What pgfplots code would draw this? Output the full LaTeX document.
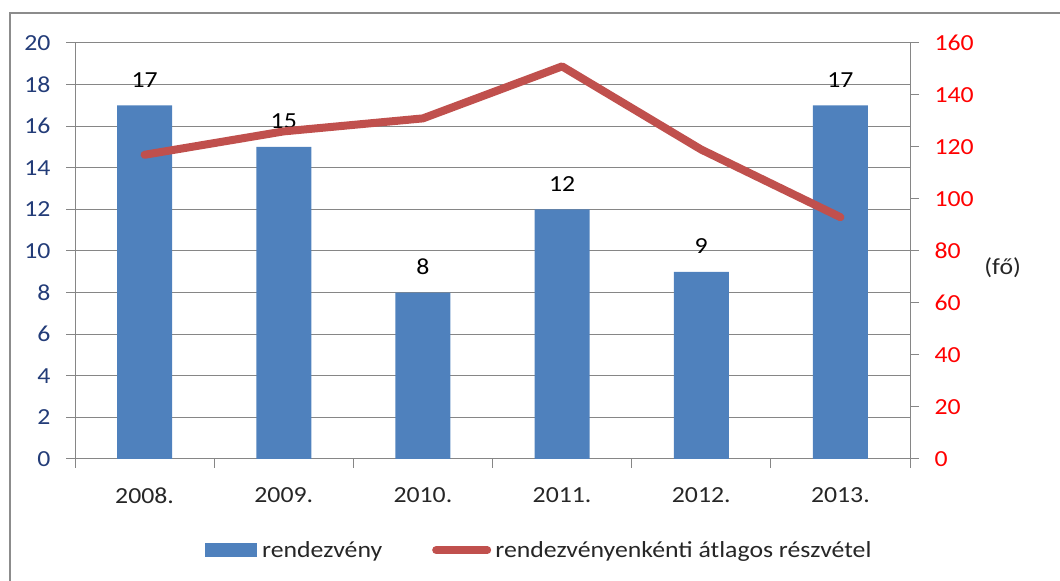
\documentclass[border=0pt]{standalone}
\usepackage{pgfplots}
\pgfplotsset{compat=1.18}
\usepackage{fontspec}
\setmainfont{Carlito}[FakeStretch=1.12]
\definecolor{barblue}{RGB}{79,129,189}
\definecolor{linered}{RGB}{192,80,77}
\definecolor{ticknavy}{RGB}{35,60,120}
\definecolor{gridgray}{RGB}{134,134,134}
\definecolor{framegray}{RGB}{140,140,140}
\begin{document}
\begin{tikzpicture}[x=1bp,y=1bp,font=\fontsize{23bp}{27bp}\selectfont]
\useasboundingbox (0,0) rectangle (1060,581);
\draw[framegray, line width=2.5bp] (10,-20) -- (10,568) -- (1080,568);
\begin{axis}[
  at={(75bp,122bp)}, anchor=south west,
  scale only axis, width=835bp, height=416bp,
  xmin=-0.5, xmax=5.5, ymin=0, ymax=20,
  ytick={0,2,...,20},
  xtick={0,...,5},
  xticklabels={2008.,2009.,2010.,2011.,2012.,2013.},
  minor xtick={-0.5,0.5,1.5,2.5,3.5,4.5,5.5},
  major x tick style={draw=none},
  axis x line*=bottom, axis y line*=left,
  axis line style={gridgray, line width=1bp, -},
  tick style={gridgray, line width=1bp},
  tick align=outside,
  major tick length=9bp, minor tick length=9bp,
  ymajorgrids, major grid style={gridgray, line width=1bp},
  yticklabel style={ticknavy, xshift=-12bp},
  xticklabel style={black!85, yshift=-16bp},
  /pgf/number format/assume math mode=true,
  every tick label/.append style={font=\fontsize{23bp}{27bp}\selectfont},
  legend style={at={(0.1557,-0.219)}, anchor=west, draw=none, fill=none,
    inner sep=0pt, legend columns=2,
    font=\fontsize{23bp}{27bp}\selectfont, text=black!85,
    nodes={inner sep=2bp},
    /tikz/every even column/.append style={column sep=48bp}},
  legend cell align=left,
  clip=false,
]
\addplot[ybar, bar width=55bp, fill=barblue, draw=none,
  nodes near coords,
  every node near coord/.append style={black, anchor=base, yshift=18bp,
    font=\fontsize{23bp}{27bp}\selectfont},
  legend image code/.code={\fill[barblue] (0bp,-7bp) rectangle (52bp,7bp); \path (55bp,0bp);}
] coordinates {(0,17) (1,15) (2,8) (3,12) (4,9) (5,17)};
\addlegendentry{rendezvény}
\addlegendimage{legend image code/.code={\draw[linered, line width=8bp, line cap=round] (4bp,0bp) -- (55bp,0bp); \path (61bp,0bp);}}
\addlegendentry{rendezvényenkénti átlagos részvétel}
\end{axis}
\begin{axis}[
  at={(75bp,122bp)}, anchor=south west,
  scale only axis, width=835bp, height=416bp,
  xmin=-0.5, xmax=5.5, ymin=0, ymax=160,
  ytick={0,20,...,160},
  axis x line=none, axis y line*=right,
  axis line style={gridgray, line width=1bp, -},
  tick style={gridgray, line width=1bp},
  tick align=outside, major tick length=9bp,
  yticklabel style={red, xshift=12bp},
  /pgf/number format/assume math mode=true,
  every tick label/.append style={font=\fontsize{23bp}{27bp}\selectfont},
  clip=false,
]
\addplot[linered, line width=8bp, line cap=round, line join=round]
  coordinates {(0,117) (1,126) (2,131) (3,151) (4,119) (5,93)};
\node[black!85, font=\fontsize{23bp}{27bp}\selectfont] at (rel axis cs:1.111,0.459) {(fő)};
\end{axis}
\end{tikzpicture}
\end{document}
